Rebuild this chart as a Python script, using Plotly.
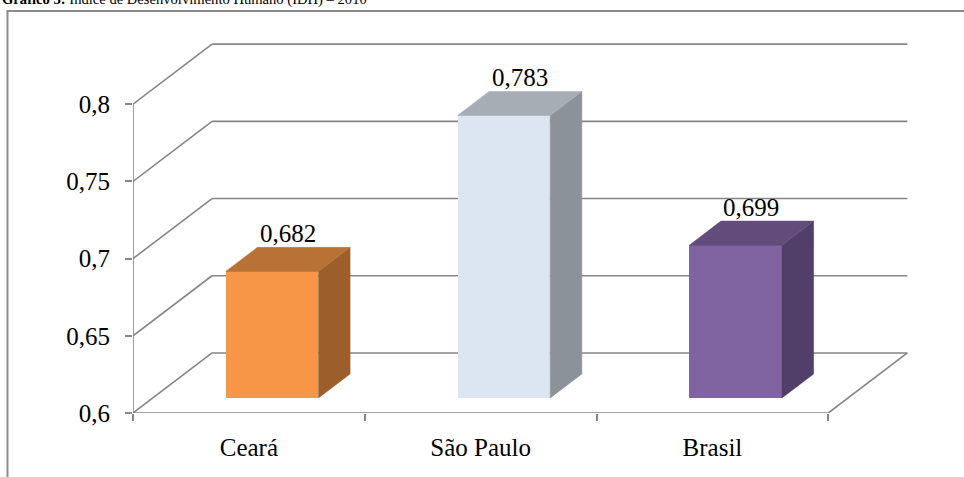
import plotly.graph_objects as go

# Índice de Desenvolvimento Humano (IDH) – 2010
categories = ["Ceará", "São Paulo", "Brasil"]
idh = [0.682, 0.783, 0.699]
y_ticks = [0.6, 0.65, 0.7, 0.75, 0.8]
y_tick_text = ["0,6", "0,65", "0,7", "0,75", "0,8"]

front_colors = ["#F79646", "#DCE6F2", "#8064A2"]
top_colors = ["#B97236", "#A6ADB5", "#614C7C"]
side_colors = ["#9C5E2A", "#8B9299", "#523F69"]

# page geometry (pixels)
W, H = 964, 477
L, R, T, B = 133, 43, 27, 64
PW, PH = W - L - R, H - T - B

X_RANGE = [0, 3.4]
Y_RANGE = [0.6, 0.85]
BASE = Y_RANGE[0]

# oblique projection used for the pseudo-3D look
DX = 0.341      # depth shift along x (category units)
DY = 0.0389     # depth shift along y (value units)
F0, F1 = 0.25, 0.65   # front / back depth of each column
BAR_LEFT, BAR_W = 0.315, 0.4

GRID = "#868686"
FONT = "Liberation Serif, Times New Roman, serif"


def paper_x(px):
    return (px - L) / PW


def paper_y(py):
    return 1 - (py - T) / PH


fig = go.Figure()
shapes = []
n = len(categories)

# walls: side-wall diagonals and back-wall gridlines
for v in y_ticks:
    shapes.append(dict(type="line", xref="x", yref="y", x0=0, y0=v, x1=DX, y1=v + DY,
                       line=dict(color=GRID, width=1.6), layer="below"))
    shapes.append(dict(type="line", xref="x", yref="y", x0=DX, y0=v + DY, x1=n + DX, y1=v + DY,
                       line=dict(color=GRID, width=1.6), layer="below"))

# floor front edge, right floor edge and value axis line
shapes.append(dict(type="line", xref="x", yref="y", x0=0, y0=BASE, x1=n, y1=BASE,
                   line=dict(color=GRID, width=1.6), layer="below"))
shapes.append(dict(type="line", xref="x", yref="y", x0=n, y0=BASE, x1=n + DX, y1=BASE + DY,
                   line=dict(color=GRID, width=1.6), layer="below"))
shapes.append(dict(type="line", xref="x", yref="y", x0=0, y0=BASE, x1=0, y1=y_ticks[-1],
                   line=dict(color=GRID, width=1.6), layer="below"))

# outer frame (left and top edges)
shapes.append(dict(type="line", xref="paper", yref="paper",
                   x0=paper_x(7.5), y0=paper_y(11), x1=paper_x(7.5), y1=paper_y(H + 5),
                   line=dict(color="#8C8C8C", width=2)))
shapes.append(dict(type="line", xref="paper", yref="paper",
                   x0=paper_x(6.5), y0=paper_y(11), x1=paper_x(W + 5), y1=paper_y(11),
                   line=dict(color="#8C8C8C", width=2)))

annotations = []
ddx, ddy = (F1 - F0) * DX, (F1 - F0) * DY
for i, (cat, v) in enumerate(zip(categories, idh)):
    xl = i + BAR_LEFT + F0 * DX
    xr = xl + BAR_W
    yb = BASE + F0 * DY
    yt = v + F0 * DY

    # front face
    fig.add_trace(go.Bar(x=[xl + BAR_W / 2], y=[v - BASE], base=[yb], width=[BAR_W],
                         marker=dict(color=front_colors[i], line=dict(width=0)),
                         name=cat, hovertemplate=f"{cat}: %{{customdata}}<extra></extra>",
                         customdata=[f"{v:.3f}".replace(".", ",")]))
    # side face
    fig.add_trace(go.Scatter(x=[xr, xr + ddx, xr + ddx, xr, xr],
                             y=[yb, yb + ddy, yt + ddy, yt, yb],
                             fill="toself", fillcolor=side_colors[i], mode="lines",
                             line=dict(color=side_colors[i], width=0.5), hoverinfo="skip"))
    # top face
    fig.add_trace(go.Scatter(x=[xl, xr, xr + ddx, xl + ddx, xl],
                             y=[yt, yt, yt + ddy, yt + ddy, yt],
                             fill="toself", fillcolor=top_colors[i], mode="lines",
                             line=dict(color=top_colors[i], width=0.5), hoverinfo="skip"))
    # value label
    annotations.append(dict(x=xl + BAR_W / 2 + ddx / 2, y=yt + ddy, xref="x", yref="y",
                            text=f"{v:.3f}".replace(".", ","), showarrow=False,
                            yanchor="bottom", yshift=-2,
                            font=dict(family=FONT, size=25, color="black")))

annotations.append(dict(x=paper_x(0), y=paper_y(6), xref="paper", yref="paper",
                        xanchor="left", yanchor="bottom", yshift=-4, showarrow=False,
                        text="<b>Gráfico 3:</b> Índice de Desenvolvimento Humano (IDH) – 2010",
                        font=dict(family=FONT, size=14.6, color="black")))

fig.update_layout(
    width=W, height=H,
    margin=dict(l=L, r=R, t=T, b=B, pad=0),
    paper_bgcolor="white", plot_bgcolor="white",
    showlegend=False,
    separators=",.",
    shapes=shapes,
    annotations=annotations,
    bargap=0,
    xaxis=dict(range=X_RANGE, showgrid=False, zeroline=False, showline=False,
               tickvals=[i + 0.5 for i in range(n)], ticktext=categories, ticks="",
               tickfont=dict(family=FONT, size=25, color="black"),
               ticklabelstandoff=17,
               minor=dict(tickvals=list(range(n + 1)), ticks="outside", ticklen=7,
                          tickcolor=GRID, tickwidth=1.6, showgrid=False),
               fixedrange=True),
    yaxis=dict(range=Y_RANGE, showgrid=False, zeroline=False, showline=False,
               tickvals=y_ticks, ticktext=y_tick_text, ticks="outside", ticklen=7,
               tickcolor=GRID, tickwidth=1.6,
               tickfont=dict(family=FONT, size=25, color="black"),
               ticklabelstandoff=10,
               fixedrange=True),
)

fig.write_html("out.html")
